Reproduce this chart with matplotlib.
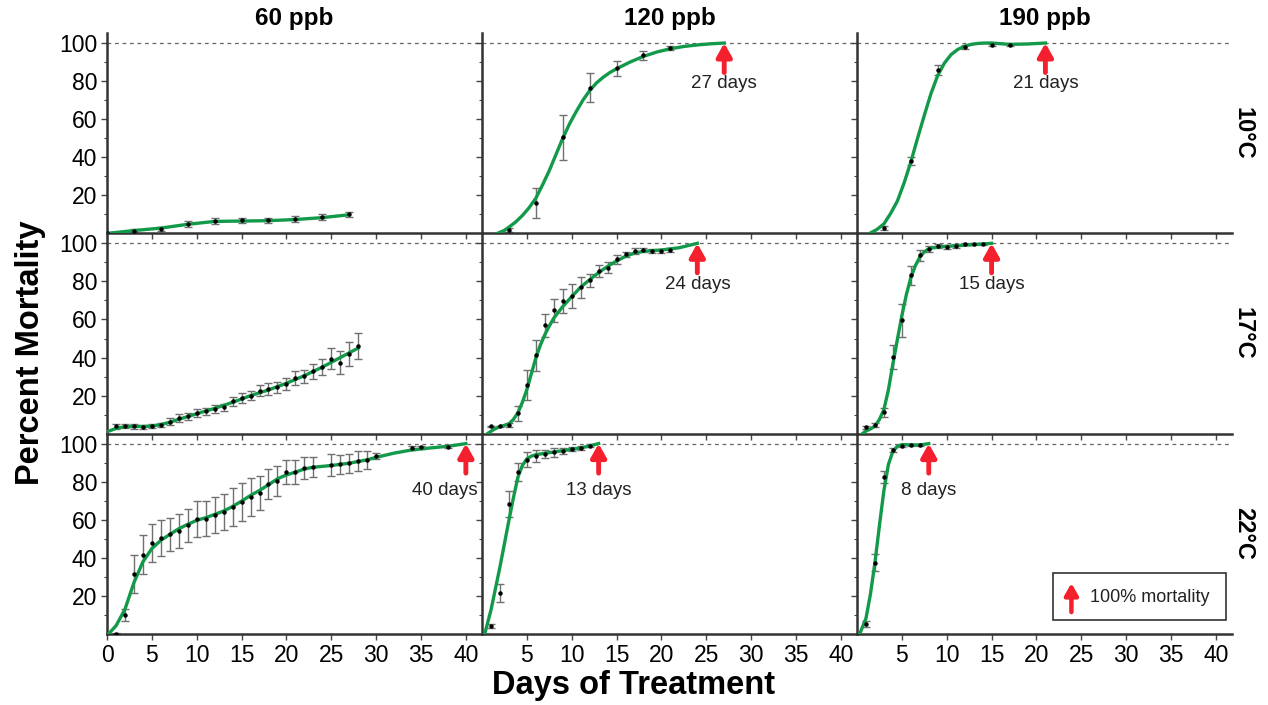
import numpy as np
import matplotlib.pyplot as plt
from matplotlib.patches import Rectangle

plt.rcParams['font.family'] = ['Liberation Sans', 'DejaVu Sans']

concs = ["60 ppb", "120 ppb", "190 ppb"]
temps = ["10°C", "17°C", "22°C"]

# measured means (day, % mortality, sd) per panel, row = temperature, col = concentration
days = {
    (0, 0): [0, 3, 6, 9, 12, 15, 18, 21, 24, 27],
    (0, 1): [3, 6, 9, 12, 15, 18, 21],
    (0, 2): [3, 6, 9, 12, 15, 17],
    (1, 0): list(range(1, 29)),
    (1, 1): list(range(1, 22)),
    (1, 2): list(range(1, 15)),
    (2, 0): list(range(1, 24)) + [25, 26, 27, 28, 29, 30, 34, 35, 38],
    (2, 1): list(range(1, 13)),
    (2, 2): [1, 2, 3, 4, 5, 6, 7],
}
mort = {
    (0, 0): [0, 1.5, 2.5, 5, 6.5, 6.8, 6.8, 7.5, 8.5, 10],
    (0, 1): [1.6, 16, 50.4, 76.6, 86.8, 93.5, 97.2],
    (0, 2): [2.8, 37.9, 85.9, 98, 98.8, 99],
    (1, 0): [3.8, 4.1, 3.8, 3.5, 4.1, 4.6, 6.4, 8.2, 9.1, 10.8, 11.7, 13.1, 13.8, 17,
             18.8, 20, 22.6, 23.5, 24.4, 26.1, 29.3, 30.2, 32.8, 35, 39.3, 37.2, 42, 46.1],
    (1, 1): [3.8, 3.8, 4.6, 10.8, 25.7, 41.1, 56.9, 64.8, 69.9, 72.3, 76.8, 80.5, 85.3,
             87.3, 91.6, 94.2, 96, 96.3, 96, 96, 96.3],
    (1, 2): [3.5, 4.4, 11.2, 40.3, 59.5, 83.2, 93.7, 97.2, 98.4, 98.1, 98.6, 99.5, 99.5, 99.5],
    (2, 0): [0.2, 9.9, 31.4, 41.7, 48, 50.6, 52.3, 54.1, 57, 60.6, 60.6, 62.4, 64.1, 66.7,
             69.3, 72, 74.2, 78.9, 80.3, 85, 85.2, 87.3, 87.6, 88.9, 89.2, 89.7, 90.8, 91.5,
             93.7, 97.6, 98.1, 98.4],
    (2, 1): [4.1, 21.7, 68.1, 85, 91.5, 93.7, 94.6, 95.4, 96.3, 97.2, 97.7, 98.9],
    (2, 2): [5.2, 37.5, 82.4, 96.7, 98.9, 99.3, 99.3],
}
sd = {
    (0, 0): [0.5, 1, 1, 1.5, 1.5, 1.5, 1.5, 1.5, 1.5, 1.5],
    (0, 1): [1, 7.8, 11.6, 7.8, 4, 2.2, 1],
    (0, 2): [1, 2.2, 2.6, 1, 0.5, 0.5],
    (1, 0): [1.2, 1.2, 1.2, 1.2, 1.2, 1.2, 2, 2, 2, 2, 2, 2, 2, 2.5, 2.5, 2.5, 3, 3, 3, 3,
             3.5, 3.5, 4, 4, 5.5, 6, 6.2, 7],
    (1, 1): [0.5, 0.5, 1, 4, 8, 8, 6, 6, 6.3, 6.5, 5.3, 3.5, 3.2, 3, 2.5, 1.5, 1.5, 1,
             1, 1, 1],
    (1, 2): [0.8, 1, 2.3, 6.5, 8.5, 5, 3, 1.5, 1, 1, 0.8, 0.5, 0.5, 0.5],
    (2, 0): [0.5, 3.3, 9.9, 10.3, 10, 9.4, 8.7, 9, 8.7, 9.4, 9.2, 9.6, 9.4, 10, 10, 10,
             9, 7.8, 7.8, 6.3, 6.3, 5.7, 5.2, 5.7, 5, 5, 5.2, 4.6, 1.6, 1, 0.8, 0.8],
    (2, 1): [1, 4.8, 6.9, 4.7, 4, 3.1, 2.2, 2.2, 1.5, 1.2, 1, 0.8],
    (2, 2): [1.5, 4.4, 3.3, 1, 0.5, 0.5, 0.5],
}

# fitted curve
fit_x = {
    (0, 0): [0, 3, 6, 9, 12, 15, 18, 21, 24, 27],
    (0, 1): [1.7, 2.5, 3, 3.75, 4.5, 5.25, 6, 6.75, 7.5, 8.25, 9, 9.75, 10.5, 11.25, 12,
             12.75, 13.5, 14.25, 15, 16.5, 18, 19.5, 21, 22.5, 24, 25.5, 27],
    (0, 2): [1.4, 2.2, 3, 3.75, 4.5, 5.25, 6, 6.75, 7.5, 8.25, 9, 9.75, 10.5, 11.25, 12,
             12.75, 13.5, 14.25, 15, 17, 19, 21],
    (1, 0): [0, 1, 2, 3, 4, 5, 6, 7, 8, 9, 10, 12, 14, 16, 18, 20, 22, 24, 26, 28],
    (1, 1): [0.6, 1.3, 2, 2.5, 3, 3.5, 4, 4.5, 5, 5.5, 6, 6.5, 7, 7.5, 8, 9, 10, 11, 12,
             13, 14, 15, 16, 17, 18, 20, 22, 24],
    (1, 2): [0.6, 1, 1.5, 2, 2.5, 3, 3.5, 4, 4.5, 5, 5.5, 6, 6.5, 7, 7.5, 8, 9, 10, 12, 15],
    (2, 0): [0.15, 1, 2, 3, 4, 5, 6, 7, 8, 9, 10, 11, 12, 13, 14, 15, 16, 17, 18, 19, 20,
             21, 22, 23, 25, 27, 29, 30, 32, 34, 36, 38, 40],
    (2, 1): [0.3, 1, 2, 3, 3.5, 4, 4.5, 5, 5.5, 6, 7, 8, 9, 10, 11, 12, 13],
    (2, 2): [0.3, 1, 1.5, 2, 2.5, 3, 3.5, 4, 4.5, 5, 6, 7, 8],
}
fit_y = {
    (0, 0): [0, 1.5, 2.8, 4.8, 6.3, 6.5, 6.7, 7.3, 8.3, 9.8],
    (0, 1): [0, 1.6, 3.3, 6, 9.4, 13.5, 18.5, 25.5, 33, 41.5, 50, 57.5, 64, 70, 75, 79,
             82, 84.5, 86.5, 90, 93, 95.3, 97, 98.2, 99, 99.6, 100],
    (0, 2): [0, 2, 5, 10.5, 17, 26.5, 37.5, 50, 62, 73.5, 83, 89.5, 94, 96.7, 98.3, 99.3,
             99.8, 100, 100, 99.3, 99.5, 100],
    (1, 0): [1, 2.8, 3.7, 3.8, 3.8, 4, 4.8, 6, 7.6, 9, 10.5, 13.3, 16.5, 20, 23, 26.5,
             30.5, 35, 40, 45],
    (1, 1): [0, 2.2, 3.8, 4.4, 5.2, 7.5, 11, 16.5, 23.2, 31.5, 39.8, 46.5, 52, 56.6,
             60.7, 66.8, 72, 77, 80.9, 84.6, 87.9, 90.7, 93.2, 94.9, 95.8, 96.5, 97.7, 100],
    (1, 2): [0, 1.4, 2.5, 4, 7.5, 12.7, 23, 36.6, 49.5, 62, 73, 82, 88.2, 92.8, 95.5,
             97.2, 98.1, 98.4, 99, 100],
    (2, 0): [0, 4.3, 13, 27, 37.9, 44.9, 49.2, 52.3, 55.3, 57.6, 59.7, 61.1, 62.8, 64.6, 67,
             69.8, 72.8, 75.4, 78.4, 81.5, 83.6, 85, 86.7, 87.6, 88.5, 89.7, 91.5, 92.8, 95,
             96.7, 97.7, 98.6, 100],
    (2, 1): [0, 12.6, 35.2, 59.7, 71.5, 82.4, 88.5, 92, 93.4, 94.2, 94.9, 95.6, 96.3, 97,
             97.7, 98.8, 100],
    (2, 2): [0, 8.2, 21, 37.5, 57, 75.4, 89, 96, 98.6, 99.5, 99.3, 99.3, 100],
}

# day of 100% mortality (None = not reached)
full_kill = [[None, 27, 21], [None, 24, 15], [40, 13, 8]]

green = "#12994a"
red = "#f5202e"

fig, axes = plt.subplots(3, 3, figsize=(12.68, 7.05), dpi=100)
fig.subplots_adjust(left=0.0844, right=0.9716, top=0.953, bottom=0.1007, wspace=0, hspace=0)

for r in range(3):
    for c in range(3):
        ax = axes[r, c]
        ax.set_facecolor("none")
        key = (r, c)
        ax.axhline(100, color="#666666", lw=0.9, ls=(0, (3, 3)), zorder=1)
        ax.errorbar(days[key], mort[key], yerr=sd[key], fmt="none", ecolor="#707070",
                    elinewidth=1, capsize=3, capthick=1, zorder=2)
        ax.plot(fit_x[key], fit_y[key], color=green, lw=2.4, zorder=3)
        ax.plot(days[key], mort[key], "o", color="black", ms=2.2, zorder=4)

        d = full_kill[r][c]
        if d is not None:
            ax.annotate("", xy=(d, 100), xytext=(d, 84.5),
                        arrowprops=dict(arrowstyle="-|>,head_width=0.45,head_length=0.8",
                                        color=red, lw=3.5, shrinkA=0, shrinkB=0), zorder=5)
            ty = 75.5 if r == 2 else 78.5
            tx = d - 2.4 if d >= 40 else d
            ax.text(tx, ty, f"{d} days", ha="center", va="center", fontsize=13.5,
                    color="#222222", zorder=5)

        for s in ["top", "right"]:
            ax.spines[s].set_visible(False)
        for s in ["left", "bottom"]:
            ax.spines[s].set_color("#333333")
            ax.spines[s].set_linewidth(1.8)

        ax.set_xlim(0, 41.8)
        ax.set_ylim(0, 105.2)
        ax.set_yticks([20, 40, 60, 80, 100])
        ax.set_yticks(np.arange(10, 101, 10), minor=True)
        if c == 0:
            ax.set_xticks(np.arange(0, 41, 5))
        else:
            ax.set_xticks(np.arange(5, 41, 5))
        ax.tick_params(axis="both", which="major", labelsize=16.5, length=4, width=1,
                       color="#444444", direction="out", pad=3)
        ax.tick_params(axis="y", which="minor", length=2.5, width=0.8, color="#444444")
        if c > 0:
            ax.tick_params(axis="y", labelleft=False)
        if r < 2:
            ax.tick_params(axis="x", labelbottom=False)

    axes[r, 2].text(1.03, 0.5, temps[r], transform=axes[r, 2].transAxes, rotation=-90,
                    ha="center", va="center", fontsize=17, fontweight="bold")

for c in range(3):
    axes[0, c].set_title(concs[c], fontsize=17.5, fontweight="bold", pad=6)

# legend box
ax = axes[2, 2]
ax.add_patch(Rectangle((21.8, 7.3), 19.3, 24.6, fc="white", ec="#333333", lw=1.2, zorder=6))
ax.annotate("", xy=(23.9, 26.7), xytext=(23.9, 11.5),
            arrowprops=dict(arrowstyle="-|>,head_width=0.4,head_length=0.7",
                            color=red, lw=3.2, shrinkA=0, shrinkB=0), zorder=7)
ax.text(26.0, 19.4, "100% mortality", ha="left", va="center", fontsize=13,
        color="#222222", zorder=7)

fig.text(0.024, 0.5, "Percent Mortality", rotation=90, ha="center", va="center",
         fontsize=23.5, fontweight="bold")
fig.text(0.5, 0.028, "Days of Treatment", ha="center", va="center",
         fontsize=23.5, fontweight="bold")

fig.savefig("out.png", dpi=100, facecolor="white")
